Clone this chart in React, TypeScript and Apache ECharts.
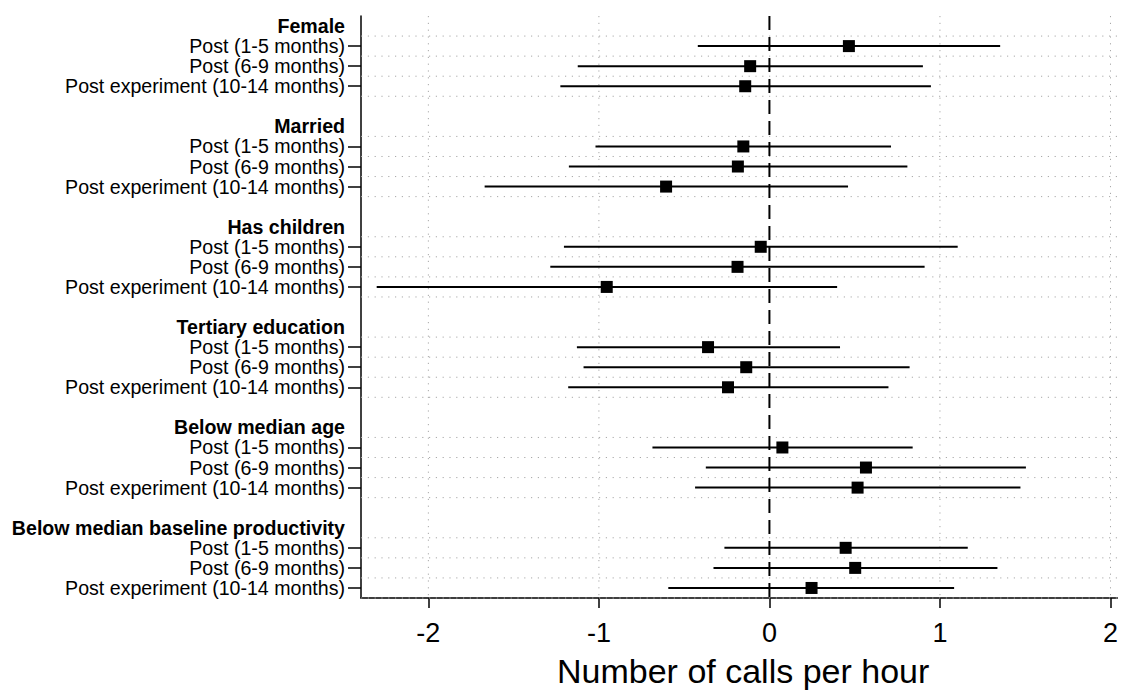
import React, { useEffect, useRef } from "react";
import * as echarts from "echarts";

const groups = [
  "Female",
  "Married",
  "Has children",
  "Tertiary education",
  "Below median age",
  "Below median baseline productivity",
];
const periods = [
  "Post (1-5 months)",
  "Post (6-9 months)",
  "Post experiment (10-14 months)",
];
// order: group by group, period by period
const estimates = [
  0.466, -0.113, -0.142,
  -0.153, -0.185, -0.606,
  -0.051, -0.187, -0.954,
  -0.36, -0.136, -0.243,
  0.076, 0.566, 0.517,
  0.447, 0.503, 0.247,
];
const lowerBounds = [
  -0.42, -1.124, -1.226,
  -1.02, -1.176, -1.67,
  -1.205, -1.285, -2.303,
  -1.129, -1.09, -1.18,
  -0.686, -0.373, -0.436,
  -0.264, -0.328, -0.593,
];
const upperBounds = [
  1.353, 0.9, 0.947,
  0.713, 0.809, 0.461,
  1.104, 0.91, 0.397,
  0.414, 0.822, 0.698,
  0.84, 1.504, 1.472,
  1.163, 1.337, 1.083,
];
const xTicks = [-2, -1, 0, 1, 2];
const xGridValues = [-2, -1, 1, 2];
const zeroLine = [0];

const FONT = "'Liberation Sans', Arial, Helvetica, sans-serif";

export default function App() {
  const ref = useRef<HTMLDivElement>(null);

  useEffect(() => {
    if (!ref.current) return;
    const chart = echarts.init(ref.current, null, { renderer: "svg" });

    const rowLabels: string[] = [];
    const rowKind: string[] = [];
    const points: number[][] = [];
    const hGrid: number[][] = [];
    groups.forEach((g, gi) => {
      rowLabels.push(g);
      rowKind.push("header");
      periods.forEach((p, pi) => {
        const k = gi * 3 + pi;
        const row = rowLabels.length;
        points.push([estimates[k], row, lowerBounds[k], upperBounds[k]]);
        hGrid.push([0, row, pi === periods.length - 1 ? 1 : 0]);
        rowLabels.push(p);
        rowKind.push("item");
      });
      if (gi < groups.length - 1) {
        rowLabels.push("");
        rowKind.push("blank");
      }
    });
    const rowIds = rowLabels.map((_, i) => "r" + i);

    const option: any = {
      animation: false,
      backgroundColor: "#fff",
      grid: { left: 361, top: 16, right: 0, bottom: 88, containLabel: false },
      xAxis: {
        type: "value",
        min: -2.395,
        max: 2.04,
        name: "Number of calls per hour",
        nameLocation: "middle",
        nameGap: 56,
        nameTextStyle: { fontSize: 34, color: "#000", fontFamily: FONT, padding: [0, 0, 0, 8] },
        axisLine: { show: true, onZero: false, lineStyle: { color: "#000", width: 1.5 } },
        axisTick: { show: true, length: 10, customValues: xTicks, lineStyle: { color: "#000", width: 1.5 } },
        axisLabel: { customValues: xTicks, fontSize: 27, color: "#000", fontFamily: FONT, margin: 21 },
        splitLine: { show: false },
      },
      yAxis: {
        type: "category",
        inverse: true,
        data: rowIds,
        boundaryGap: true,
        axisLine: { show: true, onZero: false, lineStyle: { color: "#000", width: 1.5 } },
        axisTick: {
          show: true,
          alignWithLabel: true,
          length: 13,
          interval: (index: number) => rowKind[index] === "item",
          lineStyle: { color: "#000", width: 1.5 },
        },
        axisLabel: {
          interval: 0,
          margin: 16,
          fontSize: 19.6,
          color: "#000",
          fontFamily: FONT,
          formatter: (_v: string, index: number) => {
            const t = rowLabels[index];
            if (!t) return "";
            return rowKind[index] === "header" ? "{h|" + t + "}" : t;
          },
          rich: {
            h: { fontSize: 19.6, fontWeight: "bold", color: "#000", fontFamily: FONT },
          },
        },
        splitLine: { show: false },
      },
      series: [
        {
          type: "custom",
          name: "hgrid",
          z: 1,
          silent: true,
          data: hGrid,
          renderItem: (params: any, api: any) => {
            const c = api.coord([0, api.value(1)]);
            const band = api.size([0, 1])[1];
            const cs = params.coordSys;
            const style = { stroke: "#a8a8a8", lineWidth: 1, lineDash: [1.2, 5.6] };
            const children: any[] = [
              { type: "line", shape: { x1: cs.x, y1: c[1] - band / 2, x2: cs.x + cs.width, y2: c[1] - band / 2 }, style },
            ];
            if (api.value(2) === 1) {
              children.push({ type: "line", shape: { x1: cs.x, y1: c[1] + band / 2, x2: cs.x + cs.width, y2: c[1] + band / 2 }, style });
            }
            return { type: "group", children };
          },
        },
        {
          type: "custom",
          name: "vgrid",
          z: 1,
          silent: true,
          data: xGridValues.map((v) => [v, 0]),
          renderItem: (params: any, api: any) => {
            const x = api.coord([api.value(0), 0])[0];
            const cs = params.coordSys;
            return {
              type: "line",
              shape: { x1: x, y1: cs.y, x2: x, y2: cs.y + cs.height },
              style: { stroke: "#a8a8a8", lineWidth: 1, lineDash: [1.2, 5.6] },
            };
          },
        },
        {
          type: "custom",
          name: "zero",
          z: 3,
          silent: true,
          data: zeroLine.map((v) => [v, 0]),
          renderItem: (params: any, api: any) => {
            const x = api.coord([api.value(0), 0])[0];
            const cs = params.coordSys;
            return {
              type: "line",
              shape: { x1: x, y1: cs.y, x2: x, y2: cs.y + cs.height },
              style: { stroke: "#000", lineWidth: 2, lineDash: [14, 7] },
            };
          },
        },
        {
          type: "custom",
          name: "ci",
          z: 4,
          silent: true,
          encode: { x: [0, 2, 3], y: 1 },
          data: points,
          renderItem: (_params: any, api: any) => {
            const row = api.value(1);
            const p1 = api.coord([api.value(2), row]);
            const p2 = api.coord([api.value(3), row]);
            return {
              type: "line",
              shape: { x1: p1[0], y1: p1[1], x2: p2[0], y2: p2[1] },
              style: { stroke: "#000", lineWidth: 2 },
            };
          },
        },
        {
          type: "scatter",
          name: "estimate",
          z: 5,
          symbol: "rect",
          symbolSize: 12,
          itemStyle: { color: "#000", opacity: 1 },
          data: points.map((p) => [p[0], p[1]]),
        },
      ],
    };

    chart.setOption(option);
    return () => chart.dispose();
  }, []);

  return (
    <div
      ref={ref}
      style={{ position: "fixed", left: 0, top: 0, width: 1121, height: 693, background: "#fff" }}
    />
  );
}
